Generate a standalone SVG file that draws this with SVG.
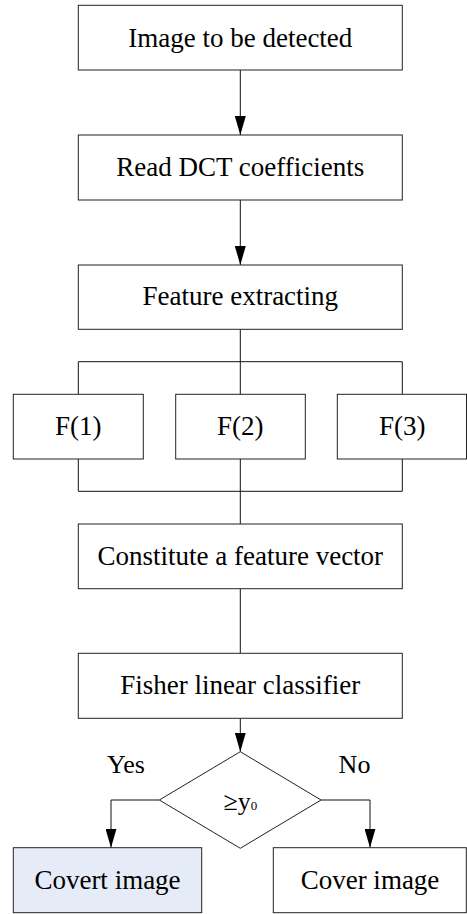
<svg xmlns="http://www.w3.org/2000/svg" width="467" height="914" viewBox="0 0 467 914" font-family="Liberation Serif, serif">
<style>
.box{fill:#fff;stroke:#222;stroke-width:1}
.blue{fill:#E6ECF7}
.t{font-family:'Liberation Serif',serif;font-size:27px;fill:#000;text-anchor:middle}
.s{font-size:26px}
.c{fill:none;stroke:#111;stroke-width:1}
</style>
<defs>
<marker id="ah" markerUnits="userSpaceOnUse" markerWidth="19" markerHeight="11" refX="19" refY="5.5" viewBox="0 0 19 11" orient="auto">
<path d="M0,0 L19,5.5 L0,11 Z" fill="#000"/>
</marker>
</defs>
<rect width="467" height="914" fill="#fff"/>
<g id="connectors">
<line class="c" x1="240.3" y1="70" x2="240.3" y2="135" marker-end="url(#ah)"/>
<line class="c" x1="240.3" y1="200" x2="240.3" y2="265" marker-end="url(#ah)"/>
<line class="c" x1="240.3" y1="329.3" x2="240.3" y2="394.3"/>
<polyline class="c" points="78.3,394.3 78.3,361.7 402.3,361.7 402.3,394.3"/>
<polyline class="c" points="78.3,459 78.3,491.3 402.3,491.3 402.3,459"/>
<line class="c" x1="240.3" y1="459" x2="240.3" y2="524"/>
<line class="c" x1="240.3" y1="588.7" x2="240.3" y2="653.3"/>
<line class="c" x1="240.3" y1="718.3" x2="240.3" y2="751.7" marker-end="url(#ah)"/>
<polyline class="c" points="159.3,800 111,800 111,847.7" marker-end="url(#ah)"/>
<polyline class="c" points="321,800 370,800 370,847.7" marker-end="url(#ah)"/>
<text class="t s" x="126" y="773">Yes</text>
<text class="t s" x="354.5" y="773">No</text>
</g>
<g id="n1"><rect class="box" x="78.3" y="5.3" width="324" height="64.7"/><text class="t" x="240.3" y="46.5">Image to be detected</text></g>
<g id="n2"><rect class="box" x="78.3" y="135" width="324" height="65"/><text class="t" x="240.3" y="176">Read DCT coefficients</text></g>
<g id="n3"><rect class="box" x="78.3" y="265" width="324" height="64.3"/><text class="t" x="240.3" y="305">Feature extracting</text></g>
<g id="f1"><rect class="box" x="13.3" y="394.3" width="130" height="64.7"/><text class="t" x="78.3" y="435">F(1)</text></g>
<g id="f2"><rect class="box" x="175.7" y="394.3" width="129.6" height="64.7"/><text class="t" x="240.3" y="435">F(2)</text></g>
<g id="f3"><rect class="box" x="337.3" y="394.3" width="129.2" height="64.7"/><text class="t" x="402.3" y="435">F(3)</text></g>
<g id="n4"><rect class="box" x="78.3" y="524" width="324" height="64.7"/><text class="t" x="240.3" y="565">Constitute a feature vector</text></g>
<g id="n5"><rect class="box" x="78.3" y="653.3" width="324" height="65"/><text class="t" x="240.3" y="694">Fisher linear classifier</text></g>
<g id="d1"><polygon class="box" points="240.3,751.7 321,800 240.3,848.3 159.3,800"/><text class="t s" x="240.3" y="810">≥y<tspan font-size="13">0</tspan></text></g>
<g id="n6"><rect class="box blue" x="13.3" y="847.7" width="188.4" height="65"/><text class="t" x="107.5" y="888.5">Covert image</text></g>
<g id="n7"><rect class="box" x="273.3" y="847.7" width="193" height="65"/><text class="t" x="370" y="888.5">Cover image</text></g>
</svg>
